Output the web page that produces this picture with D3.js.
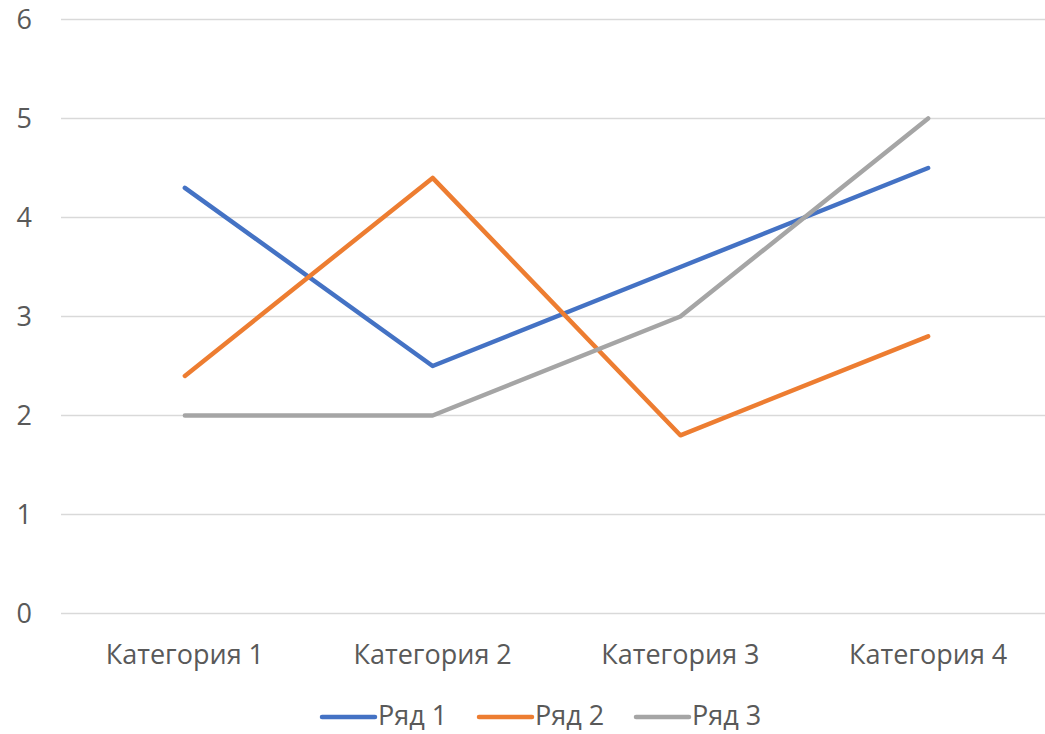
<!DOCTYPE html>
<html>
<head>
<meta charset="utf-8">
<script src="https://cdn.jsdelivr.net/npm/d3@7"></script>
<style>
  body { margin: 0; background: #fff; }
  text { font-family: "Open Sans", "Noto Sans", sans-serif; fill: #595959; }
</style>
</head>
<body>
<svg id="chart"></svg>
<script>
const categories = ["Категория 1", "Категория 2", "Категория 3", "Категория 4"];
const seriesNames = ["Ряд 1", "Ряд 2", "Ряд 3"];
const series1 = [4.3, 2.5, 3.5, 4.5];
const series2 = [2.4, 4.4, 1.8, 2.8];
const series3 = [2, 2, 3, 5];
const yTicks = [0, 1, 2, 3, 4, 5, 6];
const colors = ["#4472C4", "#ED7D31", "#A5A5A5"];

const width = 1045, height = 734;
const svg = d3.select("#chart").attr("width", width).attr("height", height);

const x = d3.scaleBand().domain(categories).range([61, 1052]);
const y = d3.scaleLinear().domain([0, 6]).range([613.5, 19.5]);

// gridlines
svg.append("g")
  .selectAll("line")
  .data(yTicks)
  .join("line")
    .attr("x1", 61).attr("x2", width)
    .attr("y1", d => y(d)).attr("y2", d => y(d))
    .attr("stroke", "#d9d9d9").attr("stroke-width", 1.5);

// y labels
svg.append("g")
  .selectAll("text")
  .data(yTicks)
  .join("text")
    .attr("x", 32).attr("y", d => y(d))
    .attr("dy", "0.35em")
    .attr("text-anchor", "end")
    .style("font-size", "27px")
    .text(d => d);

// category labels
svg.append("g")
  .selectAll("text")
  .data(categories)
  .join("text")
    .attr("x", d => x(d) + x.bandwidth() / 2)
    .attr("y", 664)
    .attr("text-anchor", "middle")
    .style("font-size", "27px")
    .text(d => d);

const allSeries = [series1, series2, series3];
const line = d3.line()
  .x((d, i) => x(categories[i]) + x.bandwidth() / 2)
  .y(d => y(d));

svg.append("g")
  .selectAll("path")
  .data(allSeries)
  .join("path")
    .attr("d", d => line(d))
    .attr("fill", "none")
    .attr("stroke", (d, i) => colors[i])
    .attr("stroke-width", 4.5)
    .attr("stroke-linejoin", "round")
    .attr("stroke-linecap", "round");

// legend
const legendX = [320, 477, 634];
const legend = svg.append("g")
  .selectAll("g")
  .data(seriesNames)
  .join("g")
    .attr("transform", (d, i) => `translate(${legendX[i]}, 717)`);

legend.append("line")
  .attr("x1", 2).attr("x2", 55)
  .attr("stroke", (d, i) => colors[i])
  .attr("stroke-width", 4.5)
  .attr("stroke-linecap", "round");

legend.append("text")
  .attr("x", 58)
  .attr("y", 8)
  .style("font-size", "27px")
  .text(d => d);
</script>
</body>
</html>
